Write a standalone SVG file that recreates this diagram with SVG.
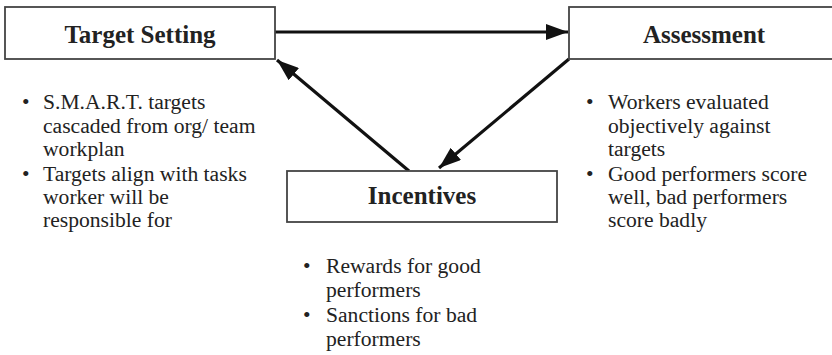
<svg xmlns="http://www.w3.org/2000/svg" width="832" height="355" viewBox="0 0 832 355">
<style>
.box{fill:#fff;stroke:#444;stroke-width:1.8}
.title{font-family:"Liberation Serif",serif;font-weight:bold;font-size:25px;fill:#222;text-anchor:middle}
.txt{font-family:"Liberation Serif",serif;font-size:21.6px;fill:#222}
.conn{stroke:#111;stroke-width:3.2;fill:none}
</style>
<defs>
<marker id="ah" markerUnits="userSpaceOnUse" markerWidth="24" markerHeight="16" viewBox="0 0 24 16" refX="22" refY="8" orient="auto">
<path d="M0,0 L22,8 L0,16 Z" fill="#111"/>
</marker>
</defs>
<rect width="832" height="355" fill="#fff"/>
<g id="connectors">
<line class="conn" x1="275" y1="32" x2="568" y2="32" marker-end="url(#ah)"/>
<line class="conn" x1="569" y1="59" x2="439" y2="168" marker-end="url(#ah)"/>
<line class="conn" x1="409" y1="171" x2="277" y2="60" marker-end="url(#ah)"/>
</g>
<g id="target-setting">
<rect class="box" x="5" y="7" width="270" height="52"/>
<text class="title" x="140" y="43">Target Setting</text>
<g class="txt">
<text x="22" y="109" class="txt">•</text>
<text x="43" y="109" class="txt">S.M.A.R.T. targets</text>
<text x="43" y="133" class="txt">cascaded from org/ team</text>
<text x="43" y="156" class="txt">workplan</text>
<text x="22" y="181" class="txt">•</text>
<text x="43" y="181" class="txt">Targets align with tasks</text>
<text x="43" y="204" class="txt">worker will be</text>
<text x="43" y="227" class="txt">responsible for</text>
</g>
</g>
<g id="assessment">
<rect class="box" x="569" y="7" width="280" height="52"/>
<text class="title" x="704" y="43">Assessment</text>
<text x="586" y="109" class="txt">•</text>
<text x="608" y="109" class="txt">Workers evaluated</text>
<text x="608" y="133" class="txt">objectively against</text>
<text x="608" y="156" class="txt">targets</text>
<text x="586" y="181" class="txt">•</text>
<text x="608" y="181" class="txt">Good performers score</text>
<text x="608" y="204" class="txt">well, bad performers</text>
<text x="608" y="227" class="txt">score badly</text>
</g>
<g id="incentives">
<rect class="box" x="287" y="171" width="270" height="51"/>
<text class="title" x="422" y="204">Incentives</text>
<text x="303" y="273" class="txt">•</text>
<text x="326" y="273" class="txt">Rewards for good</text>
<text x="326" y="297" class="txt">performers</text>
<text x="303" y="322" class="txt">•</text>
<text x="326" y="322" class="txt">Sanctions for bad</text>
<text x="326" y="346" class="txt">performers</text>
</g>
</svg>
